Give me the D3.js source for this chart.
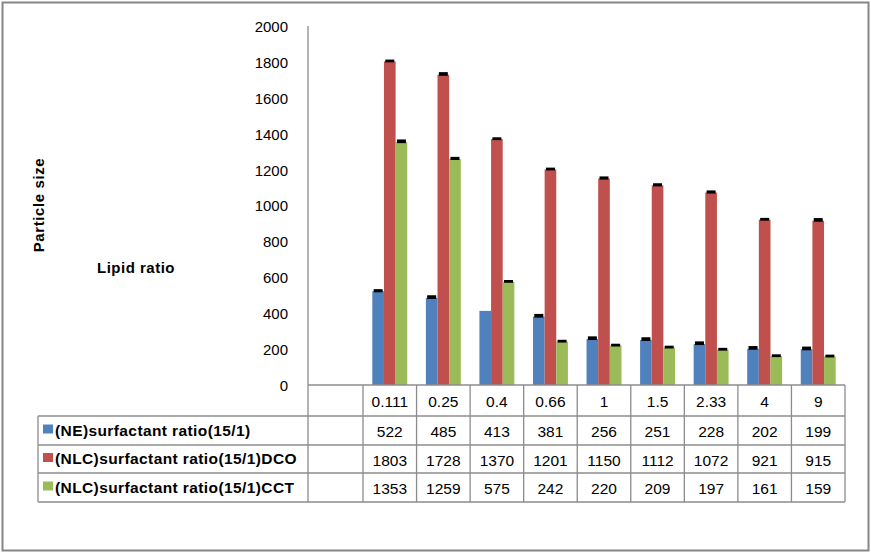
<!DOCTYPE html>
<html>
<head>
<meta charset="utf-8">
<script src="https://cdn.jsdelivr.net/npm/d3@7/dist/d3.min.js"></script>
<style>
  html, body { margin: 0; padding: 0; background: #fff; }
  svg { display: block; font-family: "Liberation Sans", Arial, sans-serif; }
</style>
</head>
<body>
<svg id="chart" width="871" height="554"></svg>
<script>
// Lipid ratio categories (table header row)
const categories = ["0.111", "0.25", "0.4", "0.66", "1", "1.5", "2.33", "4", "9"];

// Series names shown in the data table legend
const seriesNames = [
  "(NE)surfactant ratio(15/1)",
  "(NLC)surfactant ratio(15/1)DCO",
  "(NLC)surfactant ratio(15/1)CCT"
];

// Particle size values per series
const neValues = [522, 485, 413, 381, 256, 251, 228, 202, 199];
const dcoValues = [1803, 1728, 1370, 1201, 1150, 1112, 1072, 921, 915];
const cctValues = [1353, 1259, 575, 242, 220, 209, 197, 161, 159];

// Small error amounts (the black caps above each bar)
const neErrors = [12, 15, 0, 15, 15, 15, 15, 15, 15];
const dcoErrors = [10, 15, 10, 10, 12, 12, 12, 10, 15];
const cctErrors = [15, 12, 10, 10, 10, 10, 10, 10, 10];

const yTicks = [0, 200, 400, 600, 800, 1000, 1200, 1400, 1600, 1800, 2000];

const seriesColors = ["#4F81BD", "#C0504D", "#9BBB59"];
const allValues = [neValues, dcoValues, cctValues];
const allErrors = [neErrors, dcoErrors, cctErrors];

const svg = d3.select("#chart");
const gridColor = "#8c8c8c";

// Outer frame
svg.append("rect")
  .attr("x", 2.5).attr("y", 2.5)
  .attr("width", 866).attr("height", 548)
  .attr("fill", "#fff")
  .attr("stroke", "#868686")
  .attr("stroke-width", 2);

// Layout
const axisX = 308;
const tableLeft = 38;
const plotTop = 26;
const plotBottom = 385;
const colLeft = 363;
const colRight = 845;
const headerBottom = 416;
const rowHeights = [29, 28, 29];

const y = d3.scaleLinear().domain([0, 2000]).range([plotBottom, plotTop]);
const x = d3.scaleBand().domain(categories).range([colLeft, colRight]).paddingInner(0).paddingOuter(0);
const xs = d3.scaleBand().domain(d3.range(seriesNames.length))
  .range([0, x.bandwidth()]).paddingOuter(0.8).paddingInner(0);

// Y axis labels (no tick marks, no axis line from the generator)
const yAxis = d3.axisLeft(y).tickValues(yTicks).tickFormat(d3.format("d")).tickSize(0).tickPadding(0);
const yg = svg.append("g").attr("transform", `translate(288,0)`).call(yAxis);
yg.select(".domain").remove();
yg.selectAll("text")
  .attr("font-size", 15)
  .attr("fill", "#000")
  .attr("dy", "0.36em")
  .attr("font-family", "Liberation Sans, Arial, sans-serif");

// Bars
allValues.forEach((vals, si) => {
  svg.append("g").selectAll("rect")
    .data(vals)
    .join("rect")
    .attr("x", (d, i) => x(categories[i]) + xs(si))
    .attr("width", xs.bandwidth())
    .attr("y", d => y(d))
    .attr("height", d => plotBottom - y(d))
    .attr("fill", seriesColors[si]);
});

// Error caps
allValues.forEach((vals, si) => {
  const errs = allErrors[si];
  svg.append("g").selectAll("rect")
    .data(vals.map((v, i) => ({ v, e: errs[i], i })).filter(d => d.e > 0))
    .join("rect")
    .attr("x", d => x(categories[d.i]) + xs(si) + xs.bandwidth() / 2 - 4.5)
    .attr("width", 9)
    .attr("y", d => y(d.v + d.e))
    .attr("height", d => y(d.v) - y(d.v + d.e) + 1)
    .attr("fill", "#000");
});

// Table grid
const lines = svg.append("g").attr("stroke", gridColor).attr("stroke-width", 1.3).attr("fill", "none");
const rowTops = [headerBottom];
rowHeights.forEach(h => rowTops.push(rowTops[rowTops.length - 1] + h));
const tableBottom = rowTops[rowTops.length - 1];

// y axis line running down through the table
lines.append("line").attr("x1", axisX).attr("x2", axisX).attr("y1", plotTop).attr("y2", tableBottom);
// baseline / header top
lines.append("line").attr("x1", axisX).attr("x2", colRight).attr("y1", plotBottom).attr("y2", plotBottom);
// row lines
rowTops.forEach(ty => {
  lines.append("line").attr("x1", tableLeft).attr("x2", colRight).attr("y1", ty).attr("y2", ty);
});
// legend column left edge
lines.append("line").attr("x1", tableLeft).attr("x2", tableLeft).attr("y1", headerBottom).attr("y2", tableBottom);
// column boundaries
categories.forEach(c => {
  lines.append("line").attr("x1", x(c)).attr("x2", x(c)).attr("y1", plotBottom).attr("y2", tableBottom);
});
lines.append("line").attr("x1", colRight).attr("x2", colRight).attr("y1", plotBottom).attr("y2", tableBottom);

// Header labels
svg.append("g").selectAll("text")
  .data(categories)
  .join("text")
  .attr("x", d => x(d) + x.bandwidth() / 2)
  .attr("y", (plotBottom + headerBottom) / 2 + 1)
  .attr("dy", "0.36em")
  .attr("text-anchor", "middle")
  .attr("font-size", 15.5)
  .text(d => d);

// Data rows
allValues.forEach((vals, si) => {
  const cy = (rowTops[si] + rowTops[si + 1]) / 2 + 1;
  const row = svg.append("g");
  row.selectAll("text")
    .data(vals)
    .join("text")
    .attr("x", (d, i) => x(categories[i]) + x.bandwidth() / 2)
    .attr("y", cy)
    .attr("dy", "0.36em")
    .attr("text-anchor", "middle")
    .attr("font-size", 15.5)
    .text(d => d);
  // legend key + name
  row.append("rect")
    .attr("x", 43).attr("y", cy - 7)
    .attr("width", 10).attr("height", 9)
    .attr("fill", seriesColors[si]);
  row.append("text")
    .attr("x", 55).attr("y", cy - 1)
    .attr("dy", "0.35em")
    .attr("font-size", 15.5)
    .attr("font-weight", "bold")
    .attr("letter-spacing", 0.4)
    .text(seriesNames[si]);
});

// Axis titles
svg.append("text")
  .attr("transform", "translate(44,205) rotate(-90)")
  .attr("text-anchor", "middle")
  .attr("font-size", 15)
  .attr("font-weight", "bold")
  .attr("letter-spacing", 0.6)
  .text("Particle size");

svg.append("text")
  .attr("x", 97).attr("y", 273)
  .attr("font-size", 15)
  .attr("font-weight", "bold")
  .attr("letter-spacing", 0.5)
  .text("Lipid ratio");
</script>
</body>
</html>
